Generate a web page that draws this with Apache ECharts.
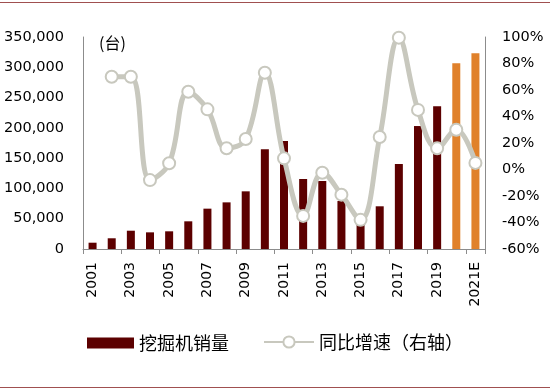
<!DOCTYPE html>
<html><head><meta charset="utf-8">
<script src="https://cdn.jsdelivr.net/npm/echarts@6/dist/echarts.min.js"></script>
<style>html,body{margin:0;padding:0;background:#fff}#c{width:550px;height:390px}</style>
</head><body><div id="c"></div>
<script>
const categories = ['2001','2002','2003','2004','2005','2006','2007','2008','2009','2010','2011','2012','2013','2014','2015','2016','2017','2018','2019','2020','2021E'];
const sales = [10400,17700,30200,27500,29200,45700,66600,77000,95200,164600,178300,115600,112300,79200,40000,70500,140300,203000,235600,306600,323000];
const growth = [null,70,70,-8,4.7,58.7,45.4,16,23,73,8.4,-35,-2.4,-19,-38,24.5,99.5,45,16,30,5];
const forecastFrom = 19;
const leftTicks = {min:0,max:350000,interval:50000};
const rightTicks = {min:-60,max:100,interval:20};

const chart = echarts.init(document.getElementById('c'), null, {renderer:'canvas'});
const font = 'DejaVu Sans';
chart.setOption({
  animation:false,
  grid:{left:83,right:65,top:37,bottom:141},
  graphic:[
    {type:'line',shape:{x1:0,y1:2.5,x2:550,y2:2.5},style:{stroke:'#a05050',lineWidth:1}},
    {type:'line',shape:{x1:0,y1:387.5,x2:550,y2:387.5},style:{stroke:'#a05050',lineWidth:1}},
    {type:'text',left:99,top:35,style:{text:'(台)',font:'16px "Noto Sans CJK SC"',fill:'#000'}}
  ],
  legend:[
    {data:[{name:'挖掘机销量',icon:'rect'}],left:82,top:329,itemWidth:47,itemHeight:11,itemGap:6,
     textStyle:{fontFamily:'Noto Sans CJK SC',fontSize:18,color:'#000'}},
    {data:['同比增速（右轴）'],left:258,top:328,itemWidth:50,itemHeight:14,
     textStyle:{fontFamily:'Noto Sans CJK SC',fontSize:18,color:'#000'}}
  ],
  xAxis:{type:'category',data:categories,
    axisLine:{lineStyle:{color:'#8c8c8c'}},
    axisTick:{show:true,length:5,lineStyle:{color:'#8c8c8c'}},
    axisLabel:{interval:1,rotate:90,fontFamily:font,fontSize:14,color:'#000',margin:13}},
  yAxis:[
    {type:'value',min:leftTicks.min,max:leftTicks.max,interval:leftTicks.interval,
     splitLine:{show:false},axisLine:{show:true,lineStyle:{color:'#8c8c8c'}},axisTick:{show:false},
     axisLabel:{fontFamily:font,fontSize:14.5,color:'#000',margin:19,
       formatter:v=>v.toLocaleString('en-US')}},
    {type:'value',min:rightTicks.min,max:rightTicks.max,interval:rightTicks.interval,
     splitLine:{show:false},axisLine:{show:true,lineStyle:{color:'#8c8c8c'}},axisTick:{show:false},
     axisLabel:{fontFamily:font,fontSize:14.5,color:'#000',margin:17,formatter:v=>v+'%'}}
  ],
  series:[
    {name:'挖掘机销量',type:'bar',yAxisIndex:0,barWidth:8,
     itemStyle:{color:'#5c0000'},
     data:sales.map((v,i)=>i>=forecastFrom?{value:v,itemStyle:{color:'#e0812b'}}:v)},
    {name:'同比增速（右轴）',type:'line',yAxisIndex:1,smooth:0.4,
     data:growth,symbol:'circle',symbolSize:12,showSymbol:true,
     lineStyle:{color:'#c8c8be',width:5},
     itemStyle:{color:'#ffffff',borderColor:'#c8c8be',borderWidth:2}}
  ]
});
</script></body></html>
